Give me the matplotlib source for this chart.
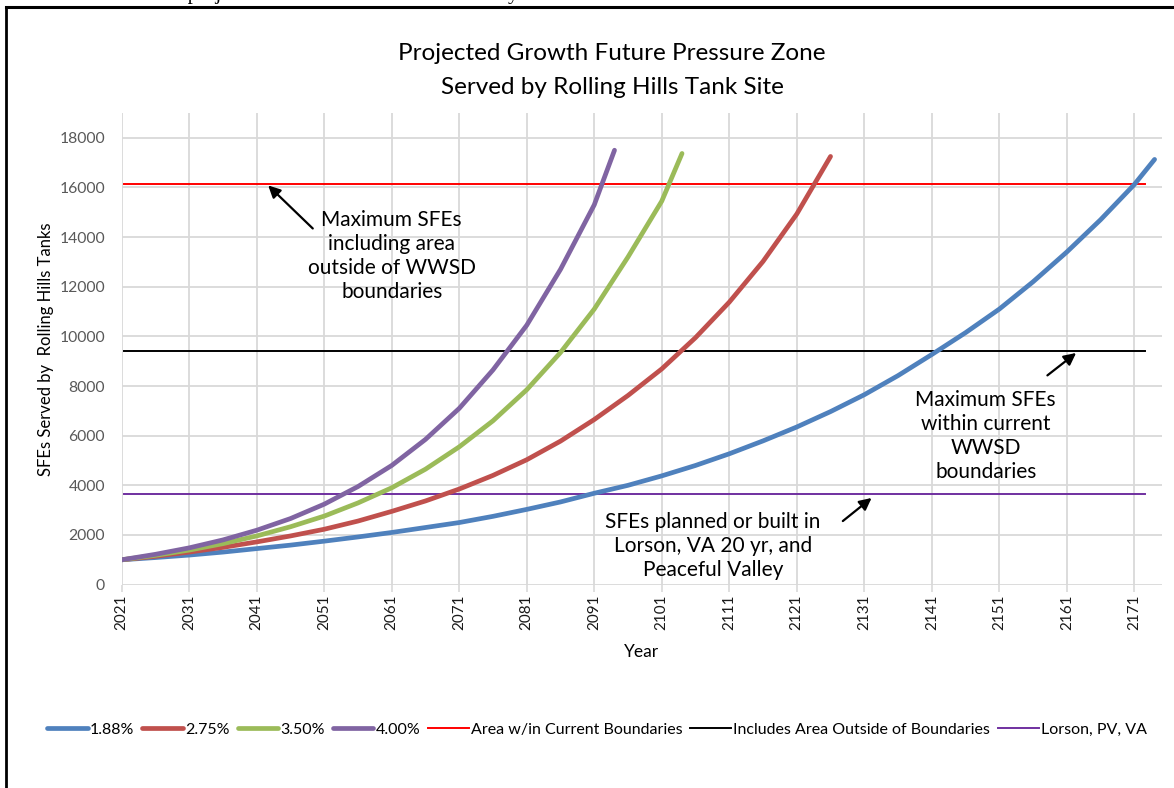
import numpy as np
import matplotlib.pyplot as plt
from matplotlib.lines import Line2D

plt.rcParams['font.family'] = ['Lato', 'DejaVu Sans']

# growth projections (SFEs by year)
years_188 = [2021, 2026, 2031, 2036, 2041, 2046, 2051, 2056, 2061, 2066, 2071, 2076,
             2081, 2086, 2091, 2096, 2101, 2106, 2111, 2116, 2121, 2126, 2131, 2136,
             2141, 2146, 2151, 2156, 2161, 2166, 2171, 2174]
sfe_188 = [1000, 1090, 1190, 1310, 1450, 1590, 1750, 1920, 2100, 2300, 2500, 2750,
           3030, 3330, 3680, 4000, 4380, 4800, 5270, 5790, 6350, 6970, 7650, 8420,
           9270, 10150, 11100, 12200, 13400, 14700, 16120, 17130]

years_275 = [2021, 2026, 2031, 2036, 2041, 2046, 2051, 2056, 2061, 2066, 2071, 2076,
             2081, 2086, 2091, 2096, 2101, 2106, 2111, 2116, 2121, 2126]
sfe_275 = [1000, 1140, 1310, 1500, 1720, 1960, 2230, 2560, 2950, 3370, 3850, 4400,
           5030, 5780, 6650, 7620, 8690, 9950, 11380, 13020, 14930, 17250]

years_350 = [2021, 2026, 2031, 2036, 2041, 2046, 2051, 2056, 2061, 2066, 2071, 2076,
             2081, 2086, 2091, 2096, 2101, 2104]
sfe_350 = [1000, 1180, 1390, 1650, 1960, 2330, 2760, 3290, 3900, 4650, 5550, 6600,
           7850, 9350, 11100, 13200, 15450, 17370]

years_400 = [2021, 2026, 2031, 2036, 2041, 2046, 2051, 2056, 2061, 2066, 2071, 2076,
             2081, 2086, 2091, 2094]
sfe_400 = [1000, 1220, 1480, 1800, 2190, 2660, 3240, 3950, 4800, 5850, 7100, 8650,
           10450, 12700, 15300, 17500]

series_labels = ['1.88%', '2.75%', '3.50%', '4.00%']
series_colors = ['#4F81BD', '#C0504D', '#9BBB59', '#8064A2']

# reference levels
ref_span = [2021.4, 2172.6]
ref_levels = [16150, 9400, 3660]
ref_labels = ['Area w/in Current Boundaries', 'Includes Area Outside of Boundaries',
              'Lorson, PV, VA']
ref_colors = ['#FF0000', '#000000', '#7030A0']

x_ticks = list(range(2021, 2172, 10))
y_ticks = list(range(0, 18001, 2000))

fig = plt.figure(figsize=(11.74, 7.88), dpi=100)
ax = fig.add_axes([121.7 / 1174, 1 - 584.6 / 788, (1162 - 121.7) / 1174, (584.6 - 113) / 788])

all_years = [years_188, years_275, years_350, years_400]
all_sfe = [sfe_188, sfe_275, sfe_350, sfe_400]
for yrs, vals, lab, col in zip(all_years, all_sfe, series_labels, series_colors):
    ax.plot(yrs, vals, color=col, lw=3.4, label=lab, solid_capstyle='round', zorder=3)

for lvl, lab, col in zip(ref_levels, ref_labels, ref_colors):
    ax.plot(ref_span, [lvl, lvl], color=col, lw=1.4, label=lab, zorder=2)

ax.set_xlim(2021, 2175.1)
ax.set_ylim(0, 19000)
ax.set_xticks(x_ticks)
ax.set_yticks(y_ticks)
ax.set_xticklabels([str(t) for t in x_ticks], rotation=90, fontsize=11, color='#1a1a1a')
ax.set_yticklabels([str(t) for t in y_ticks], fontsize=11.3, color='#595959')
ax.tick_params(axis='x', length=5, color='#D9D9D9', width=1.2, pad=2)
ax.tick_params(axis='y', length=0, pad=12)
ax.grid(True, color='#D9D9D9', lw=1.3)
ax.set_axisbelow(True)
for s in ax.spines.values():
    s.set_visible(False)

ax.set_ylabel('SFEs Served by  Rolling Hills Tanks', fontsize=12, color='black')
ax.yaxis.set_label_coords(-0.065, 0.5)
ax.set_xlabel('Year', fontsize=12.5, color='black', labelpad=10)

# annotations
ax.text(2061.0, 13220, 'Maximum SFEs\nincluding area\noutside of WWSD\nboundaries',
        ha='center', va='center', fontsize=15, linespacing=1.25)
ax.annotate('', xy=(2042.4, 16160), xytext=(2049.6, 14270),
            arrowprops=dict(arrowstyle='-|>', color='black', lw=1.6, mutation_scale=18))
ax.text(2149.0, 5990, 'Maximum SFEs\nwithin current\nWWSD\nboundaries',
        ha='center', va='center', fontsize=15, linespacing=1.25)
ax.annotate('', xy=(2162.7, 9400), xytext=(2157.8, 8360),
            arrowprops=dict(arrowstyle='-|>', color='black', lw=1.6, mutation_scale=18))
ax.text(2108.6, 1570, 'SFEs planned or built in\nLorson, VA 20 yr, and\nPeaceful Valley',
        ha='center', va='center', fontsize=15, linespacing=1.25)
ax.annotate('', xy=(2132.4, 3560), xytext=(2127.5, 2490),
            arrowprops=dict(arrowstyle='-|>', color='black', lw=1.6, mutation_scale=18))

# title
fig.text(612 / 1174, 1 - 53 / 788, 'Projected Growth Future Pressure Zone',
         ha='center', va='center', fontsize=17.5)
fig.text(612 / 1174, 1 - 87 / 788, 'Served by Rolling Hills Tank Site',
         ha='center', va='center', fontsize=17.5)

fig.legend(loc='center', bbox_to_anchor=(597 / 1174, 1 - 730 / 788), ncol=7,
           frameon=False, fontsize=11.5, handlelength=2.55, handletextpad=0.12,
           columnspacing=0.5)

# page frame and cut-off line of document text above the chart
fig.add_artist(Line2D([6 / 1174, 6 / 1174], [0, 1 - 7 / 788], color='black', lw=2,
                      transform=fig.transFigure))
fig.add_artist(Line2D([6 / 1174, 1], [1 - 7 / 788, 1 - 7 / 788], color='black', lw=2.2,
                      transform=fig.transFigure))
fig.text(54 / 1174, 1 + 1 / 788, 'The zone is not projected to be reached for at least 50 years.',
         family='Liberation Serif', fontsize=15, ha='left', va='baseline')

fig.savefig('out.png', dpi=100)
